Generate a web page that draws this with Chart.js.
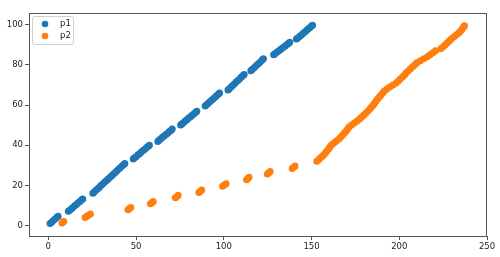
<!DOCTYPE html>
<html>
<head>
<meta charset="utf-8">
<script src="https://cdn.jsdelivr.net/npm/chart.js@4/dist/chart.umd.min.js"></script>
<style>
	html, body { margin: 0; padding: 0; background: #fff; }
	#wrap { width: 500px; height: 257px; }
</style>
</head>
<body>
<div id="wrap"><canvas id="ScatterCanvas" width="500" height="257"></canvas></div>
<script>
var seriesNames = ["p1", "p2"];
var seriesColors = ["#1f77b4", "#ff7f0e"];

var p1X = [1, 2, 3, 4, 5, 5.6,
	11.4, 12, 13, 14, 15, 16, 17, 18, 19, 19.6,
	25.4, 26, 27, 28, 29, 30, 31, 32, 33, 34, 35, 36, 37, 38, 39, 40, 41, 42, 43, 43.6,
	48.4, 49, 50, 51, 52, 53, 54, 55, 56, 57, 57.6,
	62.4, 63, 64, 65, 66, 67, 68, 69, 70, 70.6,
	75.4, 76, 77, 78, 79, 80, 81, 82, 83, 84, 84.6,
	89.4, 90, 91, 92, 93, 94, 95, 96, 97, 97.6,
	102.4, 103, 104, 105, 106, 107, 108, 109, 110, 111, 111.6,
	115.4, 116, 117, 118, 119, 120, 121, 122, 122.6,
	128.4, 129, 130, 131, 132, 133, 134, 135, 136, 137, 137.6,
	141.4, 142, 143, 144, 145, 146, 147, 148, 149, 150, 150.6];
var p1Y = [1, 1.8, 2.6, 3.4, 4.2, 4.6,
	7.1, 7.5, 8.3, 9, 9.8, 10.5, 11.3, 12, 12.8, 13.2,
	16.1, 16.6, 17.4, 18.2, 19, 19.9, 20.7, 21.5, 22.3, 23.1, 23.9, 24.7, 25.5, 26.3, 27.2, 28, 28.8, 29.6, 30.4, 30.9,
	33.1, 33.6, 34.3, 35.1, 35.8, 36.6, 37.3, 38, 38.8, 39.5, 40,
	41.9, 42.4, 43.1, 43.9, 44.6, 45.3, 46, 46.8, 47.5, 48,
	50, 50.5, 51.2, 52, 52.7, 53.5, 54.2, 54.9, 55.7, 56.4, 56.9,
	59.5, 60, 60.8, 61.6, 62.4, 63.1, 63.9, 64.7, 65.5, 66,
	67.5, 68, 68.8, 69.7, 70.5, 71.4, 72.2, 73, 73.9, 74.7, 75.2,
	77, 77.5, 78.3, 79.2, 80, 80.8, 81.7, 82.5, 83,
	85, 85.4, 86.1, 86.8, 87.4, 88.1, 88.8, 89.4, 90.1, 90.8, 91.2,
	92.8, 93.2, 94, 94.7, 95.5, 96.2, 97, 97.8, 98.5, 99.3, 99.7];

var p2X = [7.8, 8.8,
	21, 22, 23, 24,
	45.4, 46.2, 47,
	58.2, 59, 59.8,
	72.4, 73.2, 74,
	85.8, 86.6, 87.4,
	99.3, 100.3, 101.3,
	113, 113.7, 114.4,
	124.8, 125.6, 126.4,
	139, 139.8, 140.6,
	153, 154, 155, 156, 157, 157.8, 158.6, 159.6, 160.4, 161.2,
	162.6, 164, 165.4, 166.6, 167.6, 168.6, 169.6, 170.6, 171.4, 172.8,
	174.4, 176, 177.4, 178.6, 179.8, 181, 182.2, 183.2, 184.2, 185.2,
	186, 186.8, 187.6, 188.6, 189.6, 190.6, 191.4, 193, 194.6, 196.4,
	198.2, 199.4, 200.6, 201.8, 203, 204, 205.2, 206.4, 207.6, 208.8,
	210, 212, 214, 216, 217.6, 219.2, 220.6, 223.6, 225, 226.2,
	227.4, 228.6, 229.8, 231.2, 232.6, 234, 235, 236, 236.6, 237.2];
var p2Y = [1.3, 2,
	4, 4.6, 5.2, 5.8,
	7.9, 8.5, 9,
	10.8, 11.4, 12,
	13.9, 14.5, 15.1,
	16.5, 17.1, 17.7,
	19.6, 20.2, 20.8,
	22.8, 23.4, 24,
	25.7, 26.3, 26.9,
	28.4, 29, 29.6,
	32, 32.8, 33.6, 34.4, 35.2, 36, 37, 38, 39, 40,
	41, 42, 43, 44, 45, 46, 47, 48, 49, 50,
	51, 52, 53, 54, 55, 56, 57, 58, 59, 60,
	61, 62, 63, 64, 65, 66, 67, 68, 69, 70,
	71, 72, 73, 74, 75, 76, 77, 78, 79, 80,
	81, 82, 83, 84, 85, 86, 87, 88, 89, 90,
	91, 92, 93, 94, 95, 96, 97, 98, 98.8, 99.5];

var xTicks = [0, 50, 100, 150, 200, 250];
var yTicks = [0, 20, 40, 60, 80, 100];

var axisColor = "#555";
var tickFont = { family: "DejaVu Sans", size: 8.5 };

function toPoints(xs, ys) {
	var pts = [];
	for (var i = 0; i < xs.length; i++) {
		pts.push({ x: xs[i], y: ys[i] });
	}
	return pts;
}

// box around plot + legend in the top-left corner
var framePlugin = {
	id: "frame",
	afterDraw: function(chart) {
		var ctx = chart.ctx;
		var a = chart.chartArea;
		ctx.save();
		ctx.strokeStyle = axisColor;
		ctx.lineWidth = 1;
		ctx.strokeRect(Math.round(a.left) + 0.5, Math.round(a.top) + 0.5,
			Math.round(a.right - a.left) - 1, Math.round(a.bottom - a.top));

		var lx = a.left + 3, ly = a.top + 3, lw = 41, lh = 28;
		ctx.fillStyle = "rgba(255,255,255,0.8)";
		ctx.strokeStyle = "#d0d0d0";
		ctx.beginPath();
		if (ctx.roundRect) ctx.roundRect(lx + 0.5, ly + 0.5, lw, lh, 2);
		else ctx.rect(lx + 0.5, ly + 0.5, lw, lh);
		ctx.fill();
		ctx.stroke();

		ctx.font = "8.5px 'DejaVu Sans'";
		ctx.textBaseline = "middle";
		for (var i = 0; i < seriesNames.length; i++) {
			var cy = ly + 8 + i * 12;
			ctx.fillStyle = seriesColors[i];
			ctx.beginPath();
			ctx.arc(lx + 13, cy, 3.3, 0, Math.PI * 2);
			ctx.fill();
			ctx.fillStyle = "#222";
			ctx.fillText(seriesNames[i], lx + 28, cy);
		}
		ctx.restore();
	}
};

var ctx = document.getElementById("ScatterCanvas").getContext("2d");
window.myScatter = new Chart(ctx, {
	type: "scatter",
	data: {
		datasets: [
			{ label: seriesNames[0], data: toPoints(p1X, p1Y), backgroundColor: seriesColors[0], pointRadius: 3.5, pointBorderWidth: 0, order: 2 },
			{ label: seriesNames[1], data: toPoints(p2X, p2Y), backgroundColor: seriesColors[1], pointRadius: 3.5, pointBorderWidth: 0, order: 1 }
		]
	},
	options: {
		responsive: false,
		animation: false,
		layout: { padding: { left: 0, top: 13, right: 13, bottom: 0 } },
		plugins: {
			legend: { display: false },
			tooltip: { enabled: false }
		},
		scales: {
			x: {
				type: "linear",
				min: -11,
				max: 250,
				afterBuildTicks: function(s) { s.ticks = xTicks.map(function(v) { return { value: v }; }); },
				afterFit: function(s) { s.height = 21; },
				grid: { display: true, drawOnChartArea: false, drawTicks: true, tickLength: 4, color: axisColor },
				border: { display: true, color: axisColor },
				ticks: { font: tickFont, color: "#222", padding: 2, maxRotation: 0 }
			},
			y: {
				type: "linear",
				min: -5.2,
				max: 105.8,
				afterBuildTicks: function(s) { s.ticks = yTicks.map(function(v) { return { value: v }; }); },
				afterFit: function(s) { s.width = 29; },
				grid: { display: true, drawOnChartArea: false, drawTicks: true, tickLength: 4, color: axisColor },
				border: { display: true, color: axisColor },
				ticks: { font: tickFont, color: "#222", padding: 2 }
			}
		}
	},
	plugins: [framePlugin]
});
</script>
</body>
</html>
